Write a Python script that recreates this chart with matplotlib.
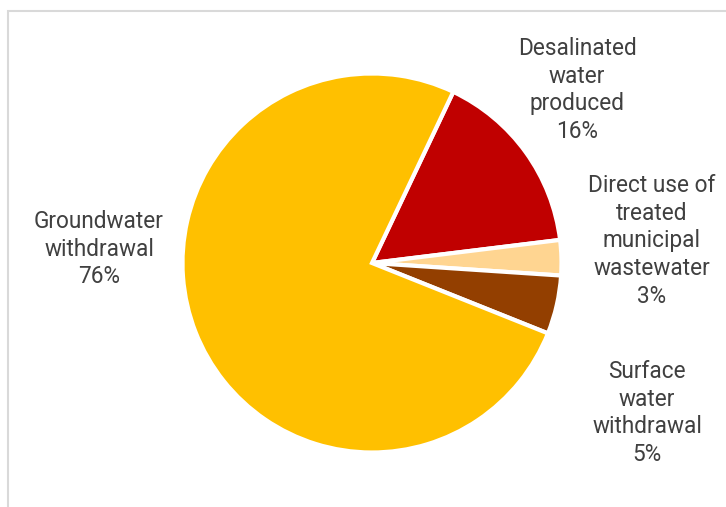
import matplotlib.pyplot as plt
from matplotlib.patches import Rectangle

# Water supply sources, share of total (%)
sources = ["Desalinated\nwater\nproduced",
           "Direct use of\ntreated\nmunicipal\nwastewater",
           "Surface\nwater\nwithdrawal",
           "Groundwater\nwithdrawal"]
shares = [16, 3, 5, 76]
colors = ["#C00000", "#FFD591", "#933F00", "#FFC000"]

# label anchor points (figure pixels from top-left)
label_xy = [(577, 90), (652, 241), (647, 413), (99, 249)]

W, H = 726, 507
fig = plt.figure(figsize=(W / 100, H / 100), dpi=100)
ax = fig.add_axes([0, 0, 1, 1])

# outer chart frame (right and bottom sides run off the canvas)
ax.add_patch(Rectangle((8, -10), W, H - 11 + 10, fill=False,
                       edgecolor="#D9D9D9", linewidth=1.5))

ax.pie(shares, colors=colors, startangle=64.6, counterclock=False,
       center=(372, H - 263), radius=189.5, frame=True,
       wedgeprops=dict(edgecolor="white", linewidth=3, joinstyle="miter"))
ax.set_xlim(0, W)
ax.set_ylim(0, H)
ax.set_aspect("equal")
ax.axis("off")

for name, pct, (x, y) in zip(sources, shares, label_xy):
    ax.text(x, H - y, f"{name}\n{pct}%", ha="center", va="center",
            fontsize=16.3, color="#404040", linespacing=1.26,
            family="Roboto")

fig.savefig("out.png", dpi=100)
